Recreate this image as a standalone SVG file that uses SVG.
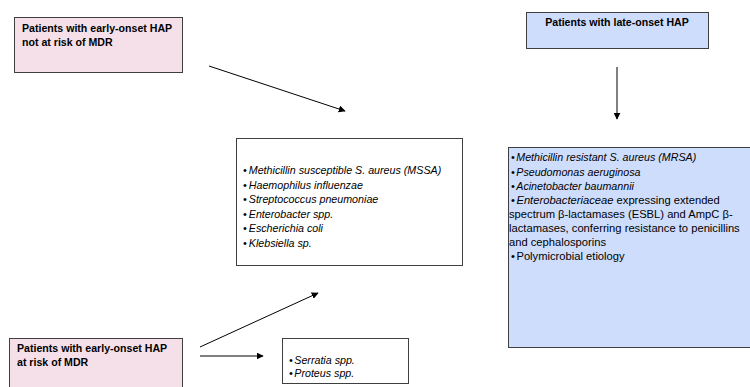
<svg xmlns="http://www.w3.org/2000/svg" width="750" height="387" viewBox="0 0 750 387">
<style>
.box{stroke:#3f3f3f;stroke-width:1}
.pink{fill:#f5e0ea}
.blue{fill:#cfddfd}
.white{fill:#ffffff}
.t{font-family:"Liberation Sans",Arial,sans-serif;font-size:10.7px;fill:#000}
.b{font-weight:bold;font-size:10.6px}
.i{font-style:italic}
.r{font-size:11.2px}
.edge{stroke:#000;stroke-width:1;fill:none;marker-end:url(#ah)}
</style>
<defs>
<marker id="ah" viewBox="0 0 10 10" refX="9" refY="5" markerWidth="7" markerHeight="7" markerUnits="userSpaceOnUse" orient="auto">
<path d="M0,0 L10,5 L0,10 z" fill="#000"/>
</marker>
</defs>
<rect width="750" height="387" fill="#fff"/>
<g id="connectors">
<line class="edge" x1="209" y1="66" x2="345" y2="111"/>
<line class="edge" x1="617" y1="67" x2="617" y2="119"/>
<line class="edge" x1="200" y1="347" x2="318" y2="293"/>
<line class="edge" x1="200" y1="356" x2="263" y2="356"/>
</g>
<g id="early-not-mdr">
<rect class="box pink" x="14.5" y="17.5" width="168" height="55"/>
<text class="t b" x="22" y="32">Patients with early-onset HAP</text>
<text class="t b" x="22" y="46">not at risk of MDR</text>
</g>
<g id="late-onset">
<rect class="box blue" x="526.5" y="12.5" width="182" height="36"/>
<text class="t b" x="617" y="26" text-anchor="middle">Patients with late-onset HAP</text>
</g>
<g id="common-pathogens">
<rect class="box white" x="236.5" y="138.5" width="226" height="127"/>
<text class="t i" x="243" y="174">•<tspan dx="2">Methicillin susceptible S. aureus (MSSA)</tspan></text>
<text class="t i" x="243" y="189">•<tspan dx="2">Haemophilus influenzae</tspan></text>
<text class="t i" x="243" y="203">•<tspan dx="2">Streptococcus pneumoniae</tspan></text>
<text class="t i" x="243" y="218">•<tspan dx="2">Enterobacter spp.</tspan></text>
<text class="t i" x="243" y="232">•<tspan dx="2">Escherichia coli</tspan></text>
<text class="t i" x="243" y="247">•<tspan dx="2">Klebsiella sp.</tspan></text>
</g>
<g id="mdr-pathogens">
<rect class="box blue" x="508.5" y="147.5" width="245" height="200"/>
<text class="t i" x="511" y="161">•<tspan dx="1.5">Methicillin resistant S. aureus (MRSA)</tspan></text>
<text class="t i" x="511" y="176">•<tspan dx="1.5">Pseudomonas aeruginosa</tspan></text>
<text class="t i" x="511" y="190">•<tspan dx="1.5">Acinetobacter baumannii</tspan></text>
<text class="t r" x="511" y="204">•<tspan class="i" dx="1.5">Enterobacteriaceae</tspan> expressing extended</text>
<text class="t r" x="509" y="218">spectrum β-lactamases (ESBL) and AmpC β-</text>
<text class="t r" x="509" y="232">lactamases, conferring resistance to penicillins</text>
<text class="t r" x="509" y="246">and cephalosporins</text>
<text class="t r" x="511" y="260">•<tspan dx="1.5">Polymicrobial etiology</tspan></text>
</g>
<g id="early-mdr">
<rect class="box pink" x="9.5" y="338.5" width="173" height="60"/>
<text class="t b" x="17" y="352">Patients with early-onset HAP</text>
<text class="t b" x="17" y="366">at risk of MDR</text>
</g>
<g id="serratia">
<rect class="box white" x="282.5" y="338.5" width="126" height="45"/>
<text class="t i" x="289" y="364">•<tspan dx="1.5">Serratia spp.</tspan></text>
<text class="t i" x="289" y="377">•<tspan dx="1.5">Proteus spp.</tspan></text>
</g>
</svg>
